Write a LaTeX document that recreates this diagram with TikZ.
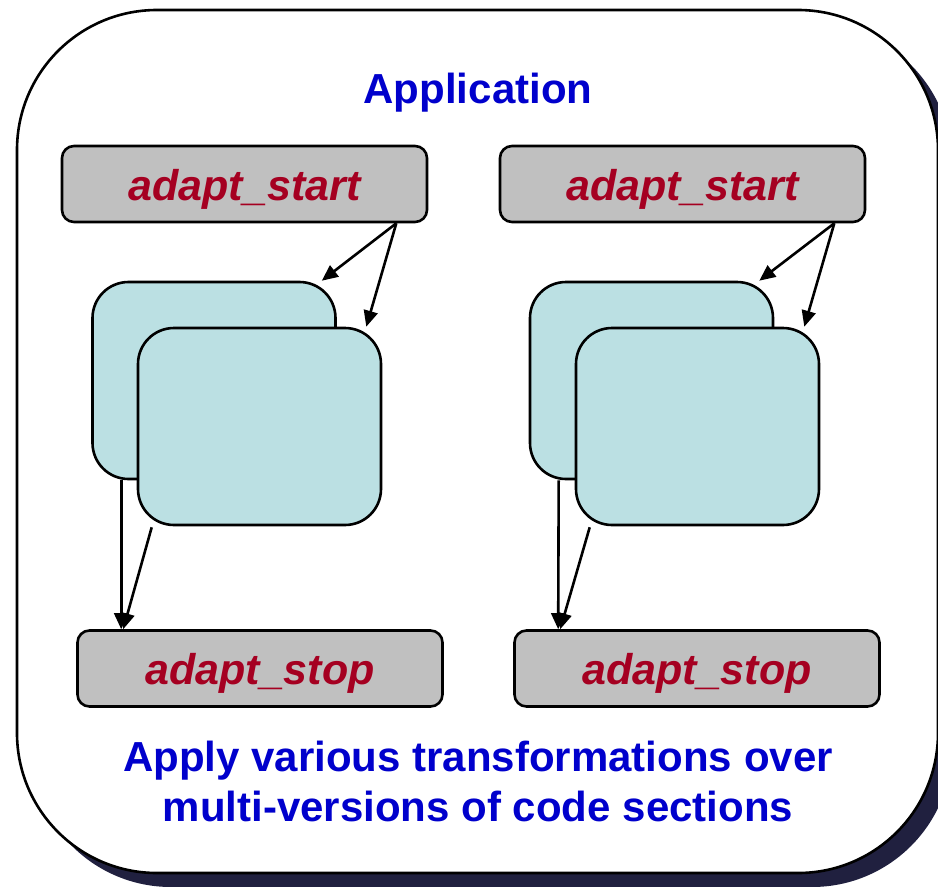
\documentclass[tikz,border=0pt]{standalone}
\usepackage{fontspec}
\setmainfont{Liberation Sans}
\usetikzlibrary{arrows.meta}
\definecolor{shadowblue}{HTML}{20203F}
\definecolor{titleblue}{HTML}{0000CC}
\definecolor{codered}{HTML}{A50021}
\definecolor{boxgray}{HTML}{C0C0C0}
\definecolor{sectioncyan}{HTML}{BBE0E3}

\begin{document}
\begin{tikzpicture}[x=1pt,y=-1pt,
  frame/.style={draw=black,line width=2.6pt,fill=white,rounded corners=140pt},
  marker/.style={draw=black,line width=2.6pt,fill=boxgray,rounded corners=12pt,
    minimum width=365pt,minimum height=76pt,inner sep=0pt,text=codered,
    text height=36pt,text depth=4pt,
    font=\fontsize{43}{50}\selectfont\bfseries\itshape},
  section/.style={draw=black,line width=2.6pt,fill=sectioncyan,rounded corners=36pt,
    minimum width=243pt,minimum height=197pt,inner sep=0pt},
  flow/.style={draw=black,line width=2.6pt,-{Triangle[length=16pt,width=14pt]}},
  caption/.style={text=titleblue,font=\fontsize{42}{50}\selectfont\bfseries,
    align=center,inner sep=0pt}]

\useasboundingbox (0,0) rectangle (938,887);
\clip (0,0) rectangle (938,887);

% outer application frame with its drop shadow
\fill[shadowblue,rounded corners=140pt] (31,24) rectangle (952,887);
\path[frame] (17,10) rectangle (938,873);

\node[caption] (title) at (478,93) {Application};

% left group
\node[marker] (s1) at (244.5,184) {adapt\_start};
\node[section] (b1) at (214,380.5) {};
\node[section] (f1) at (259.5,426.5) {};
\node[marker] (e1) at (260,668.5) {adapt\_stop};

\draw[flow] ([xshift=-32pt]s1.south east) -- ([xshift=-15pt]b1.north east);
\draw[flow] ([xshift=-32pt]s1.south east) -- ([xshift=-16pt]f1.north east);
\draw[flow] ([xshift=30pt]b1.south west) -- ([xshift=45pt]e1.north west);
\draw[flow] ([xshift=15pt,yshift=-1pt]f1.south west) -- ([xshift=47pt]e1.north west);

% right group
\node[marker] (s2) at (682.5,184) {adapt\_start};
\node[section] (b2) at (651.5,380.5) {};
\node[section] (f2) at (697.5,426.5) {};
\node[marker] (e2) at (697,668.5) {adapt\_stop};

\draw[flow] ([xshift=-32pt]s2.south east) -- ([xshift=-15pt]b2.north east);
\draw[flow] ([xshift=-32pt]s2.south east) -- ([xshift=-16pt]f2.north east);
\draw[flow] ([xshift=30pt]b2.south west) -- ([xshift=45pt]e2.north west);
\draw[flow] ([xshift=15pt,yshift=-1pt]f2.south west) -- ([xshift=47pt]e2.north west);

\node[caption] (note) at (478,781) {Apply various transformations over\\multi-versions of code sections};
\end{tikzpicture}
\end{document}
